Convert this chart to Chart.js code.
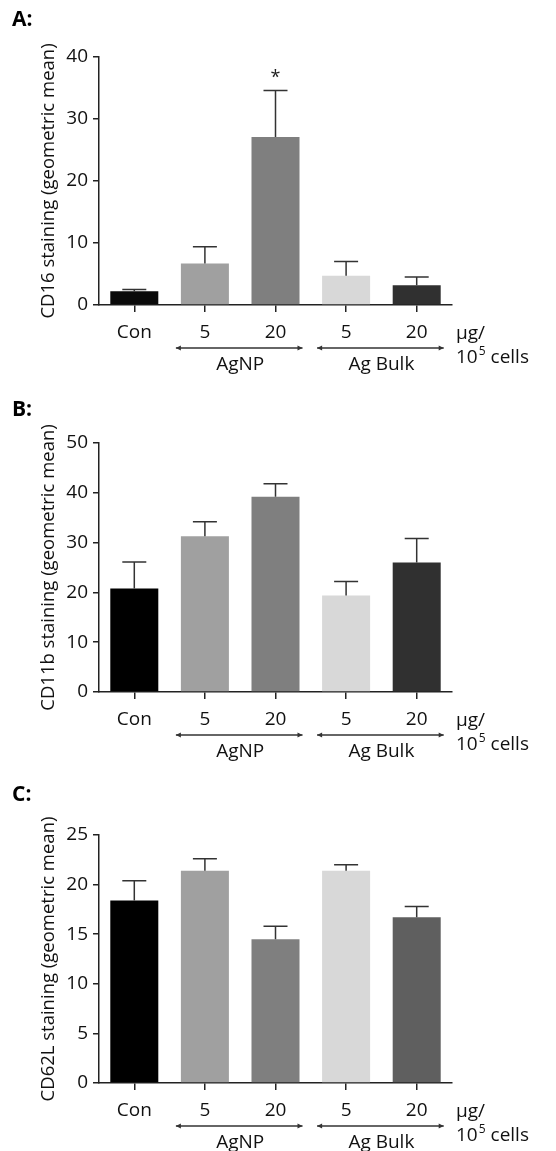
<!DOCTYPE html>
<html>
<head>
<meta charset="utf-8">
<script src="https://cdn.jsdelivr.net/npm/chart.js@4.4.1/dist/chart.umd.min.js"></script>
<style>
  body { margin: 0; background: #fff; width: 556px; height: 1151px; overflow: hidden; }
  .panel { position: absolute; left: 0; }
</style>
</head>
<body>
<canvas id="chartA" class="panel" style="top:0px" width="556" height="380"></canvas>
<canvas id="chartB" class="panel" style="top:380px" width="556" height="390"></canvas>
<canvas id="chartC" class="panel" style="top:770px" width="556" height="381"></canvas>
<script>
"use strict";
const categories = ["Con", "5", "20", "5", "20"];
const groups = ["AgNP", "Ag Bulk"];

// A: CD16
const valuesA = [2.2, 6.7, 27.1, 4.7, 3.2];
const errTopA = [2.5, 9.4, 34.6, 7.0, 4.5];
const sigA = ["", "", "*", "", ""];
const ticksA = [0, 10, 20, 30, 40];

// B: CD11b
const valuesB = [20.8, 31.3, 39.2, 19.4, 26.0];
const errTopB = [26.1, 34.2, 41.8, 22.2, 30.8];
const ticksB = [0, 10, 20, 30, 40, 50];

// C: CD62L
const valuesC = [18.4, 21.4, 14.5, 21.4, 16.7];
const errTopC = [20.4, 22.6, 15.8, 22.0, 17.8];
const ticksC = [0, 5, 10, 15, 20, 25];

const FONT = "'Open Sans', 'Noto Sans', sans-serif";
const TXT = 19;
const INK = "#111";

function extrasPlugin(p) {
  return {
    id: "extras",
    afterDatasetsDraw(chart) {
      const ctx = chart.ctx;
      const ys = chart.scales.y;
      const meta = chart.getDatasetMeta(0);
      ctx.save();
      // error bars (upper half only)
      ctx.strokeStyle = "#333";
      ctx.lineWidth = 1.5;
      meta.data.forEach((bar, i) => {
        const y0 = ys.getPixelForValue(p.values[i]);
        const y1 = ys.getPixelForValue(p.err[i]);
        ctx.beginPath();
        ctx.moveTo(bar.x, y0);
        ctx.lineTo(bar.x, y1);
        ctx.moveTo(bar.x - 12, y1);
        ctx.lineTo(bar.x + 12, y1);
        ctx.stroke();
        if (p.sig && p.sig[i]) {
          ctx.fillStyle = "#222";
          ctx.font = "18px " + FONT;
          ctx.textAlign = "center";
          ctx.textBaseline = "middle";
          ctx.fillText(p.sig[i], bar.x, y1 - 13);
        }
      });
      ctx.restore();
    },
    afterDraw(chart) {
      const ctx = chart.ctx;
      const xs = chart.scales.x;
      const base = chart.chartArea.bottom;
      ctx.save();
      // panel letter
      ctx.fillStyle = "#000";
      ctx.font = "bold 21px " + FONT;
      ctx.textAlign = "left";
      ctx.textBaseline = "middle";
      ctx.fillText(p.letter, 12, p.letterY);
      // group arrows and labels
      const spans = [[1, 2], [3, 4]];
      ctx.lineWidth = 1.3;
      spans.forEach((s, g) => {
        const x0 = xs.getPixelForValue(s[0]) - 29;
        const x1 = xs.getPixelForValue(s[1]) + 27;
        const y = base + 43;
        ctx.strokeStyle = "#333";
        ctx.fillStyle = "#333";
        ctx.beginPath();
        ctx.moveTo(x0, y);
        ctx.lineTo(x1, y);
        ctx.stroke();
        [[x0, 1], [x1, -1]].forEach(([x, d]) => {
          ctx.beginPath();
          ctx.moveTo(x, y);
          ctx.lineTo(x + d * 5, y - 2.5);
          ctx.lineTo(x + d * 5, y + 2.5);
          ctx.closePath();
          ctx.fill();
        });
        ctx.fillStyle = INK;
        ctx.font = TXT + "px " + FONT;
        ctx.textAlign = "center";
        ctx.textBaseline = "middle";
        ctx.fillText(groups[g], (x0 + x1) / 2 + 1, base + 60);
      });
      // unit label
      ctx.fillStyle = INK;
      ctx.font = TXT + "px " + FONT;
      ctx.textAlign = "left";
      ctx.textBaseline = "middle";
      ctx.fillText("\u00b5g/", 456, base + 29);
      ctx.fillText("10", 456, base + 53);
      const w10 = ctx.measureText("10").width;
      ctx.font = "12px " + FONT;
      ctx.fillText("5", 456 + w10 + 1, base + 47);
      const w5 = ctx.measureText("5").width;
      ctx.font = TXT + "px " + FONT;
      ctx.fillText(" cells", 456 + w10 + w5 + 1, base + 53);
      ctx.restore();
    },
  };
}

function makePanel(id, p) {
  const ctx = document.getElementById(id).getContext("2d");
  const canvasH = ctx.canvas.height;
  const config = {
    type: "bar",
    data: {
      labels: categories,
      datasets: [
        {
          data: p.values,
          backgroundColor: p.colors,
          borderWidth: 0,
          barPercentage: 0.68,
          categoryPercentage: 1,
        },
      ],
    },
    options: {
      responsive: false,
      animation: false,
      devicePixelRatio: 1,
      layout: { padding: { top: p.top, right: 104, left: 0, bottom: 0 } },
      plugins: { legend: { display: false }, tooltip: { enabled: false } },
      scales: {
        x: {
          offset: true,
          grid: { offset: false, drawOnChartArea: false, drawTicks: true, tickLength: 7, color: "#222", lineWidth: 1.5 },
          border: { color: "#222", width: 1.5 },
          ticks: { color: INK, font: { family: FONT, size: TXT }, padding: 9 },
          afterFit: (s) => { s.height = canvasH - p.bottom; },
        },
        y: {
          min: 0,
          max: p.ticks[p.ticks.length - 1],
          afterBuildTicks: (s) => { s.ticks = p.ticks.map((v) => ({ value: v })); },
          grid: { drawOnChartArea: false, drawTicks: true, tickLength: 6, color: "#222", lineWidth: 1.5 },
          border: { color: "#222", width: 1.5 },
          ticks: { color: INK, font: { family: FONT, size: TXT }, padding: 5 },
          title: {
            display: true,
            text: p.title,
            color: INK,
            font: { family: FONT, size: 18.5 },
            padding: { top: 38, bottom: 0 },
          },
          afterFit: (s) => { s.width = 99; },
        },
      },
    },
    plugins: [extrasPlugin(p)],
  };
  return new Chart(ctx, config);
}

makePanel("chartA", {
  values: valuesA, err: errTopA, sig: sigA, ticks: ticksA,
  title: "CD16 staining (geometric mean)",
  colors: ["#0a0a0a", "#a0a0a0", "#7f7f7f", "#d8d8d8", "#303030"],
  top: 57, bottom: 305, letter: "A:", letterY: 20,
});
makePanel("chartB", {
  values: valuesB, err: errTopB, ticks: ticksB,
  title: "CD11b staining (geometric mean)",
  colors: ["#000000", "#a0a0a0", "#7f7f7f", "#d8d8d8", "#303030"],
  top: 63, bottom: 312, letter: "B:", letterY: 30,
});
makePanel("chartC", {
  values: valuesC, err: errTopC, ticks: ticksC,
  title: "CD62L staining (geometric mean)",
  colors: ["#000000", "#a0a0a0", "#7f7f7f", "#d8d8d8", "#5f5f5f"],
  top: 65, bottom: 313, letter: "C:", letterY: 25,
});
</script>
</body>
</html>
